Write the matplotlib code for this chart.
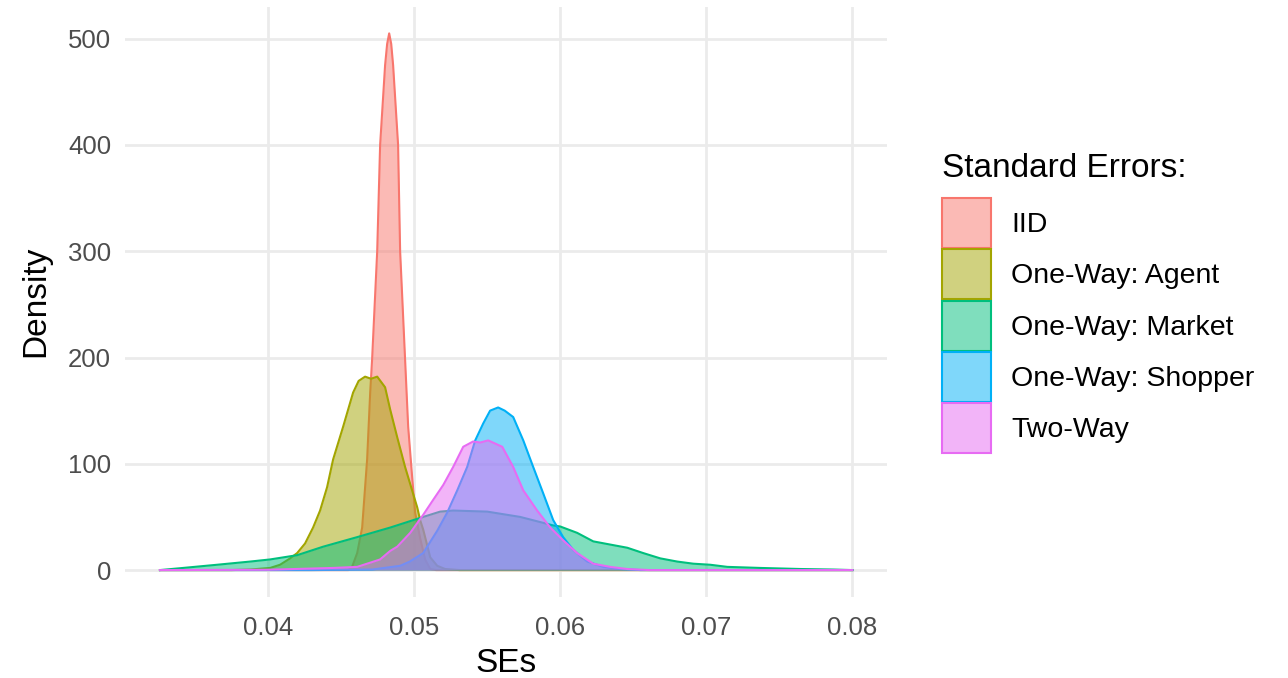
import matplotlib.pyplot as plt
from matplotlib.patches import Patch

plt.rcParams['font.family'] = ['Liberation Sans', 'DejaVu Sans']

# density curves (SE value, density)
iid_x = [0.0326, 0.0455, 0.04575, 0.0461, 0.04644, 0.04678, 0.04699, 0.04712, 0.04747,
         0.04767, 0.04801, 0.04815, 0.04829, 0.04843, 0.04856, 0.0489, 0.04904, 0.04938,
         0.04959, 0.04986, 0.05007, 0.05041, 0.05075, 0.0511, 0.0515, 0.08]
iid_y = [0, 0, 3, 16, 40, 104, 167, 198, 300,
         400, 475, 495, 505, 495, 475, 400, 300, 198,
         135, 88, 54, 30, 10, 1, 0, 0]

agent_x = [0.0326, 0.0375, 0.03877, 0.04014, 0.04082, 0.04151, 0.04199, 0.04253, 0.04308,
           0.04356, 0.04404, 0.04445, 0.04514, 0.04582, 0.0462, 0.04664, 0.04705, 0.04747,
           0.04801, 0.04836, 0.04884, 0.04938, 0.04986, 0.05021, 0.05041, 0.05062, 0.0511,
           0.05158, 0.05212, 0.0531, 0.08]
agent_y = [0, 0, 0.5, 2, 5, 11, 16, 25, 40,
           56, 78, 104, 135, 167, 178, 182, 180, 182,
           172, 151, 125, 97, 75, 59, 47, 38, 12,
           4, 1, 0, 0]

market_x = [0.0326, 0.03418, 0.03651, 0.03877, 0.04014, 0.04199, 0.04377, 0.0461, 0.04836,
            0.05062, 0.05178, 0.05267, 0.055, 0.05726, 0.05952, 0.06, 0.06116, 0.06226,
            0.06342, 0.06459, 0.06568, 0.06685, 0.06801, 0.06911, 0.07027, 0.07144, 0.0737,
            0.07644, 0.0787, 0.08]
market_y = [0, 2, 5, 8, 10, 14, 22, 31, 40,
            50, 55, 56, 55, 50, 42, 41, 35, 27,
            24, 21, 16, 11, 8, 6, 5, 3, 2,
            1, 0.5, 0]

shopper_x = [0.0326, 0.043, 0.04712, 0.04904, 0.0497, 0.05062, 0.05158, 0.05226, 0.05295,
             0.05363, 0.05418, 0.05473, 0.0552, 0.05575, 0.0562, 0.05678, 0.05747, 0.05815,
             0.05884, 0.05952, 0.0602, 0.06089, 0.06185, 0.06295, 0.0641, 0.0655, 0.08]
shopper_y = [0, 0, 0.5, 4, 8, 16, 37, 54, 75,
             97, 122, 138, 150, 153, 150, 144, 122, 97,
             72, 47, 31, 19, 8, 3, 1, 0, 0]

twoway_x = [0.0326, 0.04, 0.04445, 0.0461, 0.04678, 0.04767, 0.04836, 0.04884, 0.04973,
            0.05062, 0.0513, 0.05199, 0.05267, 0.05336, 0.05404, 0.05452, 0.05507, 0.05603,
            0.05678, 0.05747, 0.05842, 0.05932, 0.0602, 0.06116, 0.06226, 0.06342, 0.06459,
            0.0661, 0.08]
twoway_y = [0, 0.3, 2, 3, 6, 10, 18, 22, 35,
            52, 66, 80, 97, 116, 121, 120, 122, 116,
            97, 75, 56, 40, 28, 16, 6, 3, 1,
            0, 0]

labels = ["IID", "One-Way: Agent", "One-Way: Market", "One-Way: Shopper", "Two-Way"]
colors = ["#F8766D", "#A3A500", "#00BF7D", "#00B0F6", "#E76BF3"]
curves = [(iid_x, iid_y), (agent_x, agent_y), (market_x, market_y),
          (shopper_x, shopper_y), (twoway_x, twoway_y)]

fig = plt.figure(figsize=(12.88, 6.78), dpi=100)
ax = fig.add_axes([0.097, 0.12, 0.592, 0.87])

# draw groups in order, fill then outline, like ggplot
for i, ((xs, ys), col) in enumerate(zip(curves, colors)):
    ax.fill_between(xs, ys, 0, color=col, alpha=0.5, lw=0, zorder=2 + 2 * i)
    ax.plot(xs, ys, color=col, lw=1.5, zorder=3 + 2 * i, solid_joinstyle='round')

ax.set_xlim(0.0302, 0.0824)
ax.set_ylim(-25, 530)
ax.set_xticks([0.04, 0.05, 0.06, 0.07, 0.08])
ax.set_xticklabels(["0.04", "0.05", "0.06", "0.07", "0.08"])
ax.set_yticks([0, 100, 200, 300, 400, 500])

ax.grid(True, color="#EBEBEB", lw=2.0, zorder=0)
ax.set_axisbelow(True)
for s in ax.spines.values():
    s.set_visible(False)
ax.tick_params(length=0, labelsize=18.5, labelcolor="#4D4D4D")
ax.tick_params(axis='x', pad=14)
ax.tick_params(axis='y', pad=10)

ax.set_xlabel("SEs", fontsize=24, labelpad=6)
ax.set_ylabel("Density", fontsize=24, labelpad=12)

handles = [Patch(facecolor=c + "80", edgecolor=c, lw=1.5) for c in colors]
leg = fig.legend(handles, labels, loc='upper left', bbox_to_anchor=(0.72, 0.795),
                 frameon=False, fontsize=20.5, title="Standard Errors:",
                 title_fontsize=24, handlelength=1.75, handleheight=2.32,
                 labelspacing=0.05, handletextpad=0.7, borderpad=0)
leg._legend_box.align = "left"
leg._legend_box.sep = 10

fig.savefig("out.png", dpi=100)
